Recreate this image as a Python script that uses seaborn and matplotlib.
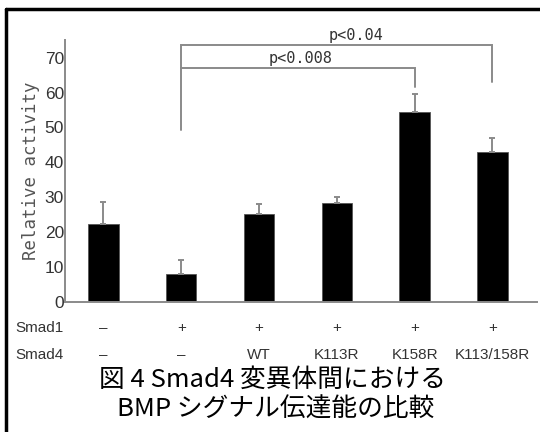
import numpy as np
import pandas as pd
import seaborn as sns
import matplotlib.pyplot as plt
from matplotlib.lines import Line2D

# data
groups = ["g1", "g2", "g3", "g4", "g5", "g6"]
activity = [22.3, 8.0, 25.1, 28.3, 54.3, 42.9]
err_up = [6.3, 4.0, 2.9, 1.7, 5.4, 4.2]
smad1 = ["–", "+", "+", "+", "+", "+"]
smad4 = ["–", "–", "WT", "K113R", "K158R", "K113/158R"]
y_ticks = [0, 10, 20, 30, 40, 50, 60, 70]

# significance brackets: (left bar, right bar, top y, left leg end, right leg end, label)
brackets = [
    (1, 5, 73.7, 49.4, 62.9, "p<0.04"),
    (1, 4, 67.1, 67.1, 61.7, "p<0.008"),
]
bracket_label_x = [3.25, 2.53]

caption = ["図 4 Smad4 変異体間における", "BMP シグナル伝達能の比較"]

GRAY = "#8a8a8a"
TXT = "#333333"

sns.set_theme(style="white")
plt.rcParams["font.family"] = ["Liberation Sans", "DejaVu Sans"]

df = pd.DataFrame({"group": groups, "activity": activity})

fig = plt.figure(figsize=(5.4, 4.32), dpi=100)
ax = fig.add_axes([0.121, 0.301, 0.873, 0.606])

sns.barplot(data=df, x="group", y="activity", color="black", width=0.39,
            errorbar=None, edgecolor="#555555", linewidth=0.6, ax=ax,
            saturation=1)
xs = np.arange(len(groups))
ax.errorbar(xs, activity, yerr=[np.zeros(len(err_up)), err_up], fmt="none",
            ecolor=GRAY, elinewidth=1.4, capsize=2.5, capthick=1.4, zorder=1)

ax.set_xlim(-0.49, 5.57)
ax.set_ylim(0, 75)
ax.set_yticks(y_ticks)
ax.set_yticklabels([str(t) for t in y_ticks])
ax.set_xticks([])
ax.set_xlabel("")
ax.set_ylabel("Relative activity", family="DejaVu Sans Mono", fontsize=12.5,
              color="#555555", labelpad=3)
ax.tick_params(axis="y", direction="in", length=7, width=1.2, color=GRAY,
               labelsize=12.5, labelcolor=TXT, pad=1)
for s in ("top", "right"):
    ax.spines[s].set_visible(False)
for s in ("left", "bottom"):
    ax.spines[s].set_color(GRAY)
    ax.spines[s].set_linewidth(1.4)

for (a, b, top, l_end, r_end, lab), lx in zip(brackets, bracket_label_x):
    ax.plot([a, a, b, b], [l_end, top, top, r_end], color=GRAY, lw=1.4,
            clip_on=False, solid_joinstyle="miter")
    ax.text(lx, top + 0.6, lab, family="DejaVu Sans Mono", fontsize=11,
            color=TXT, ha="center", va="bottom", clip_on=False)

# Smad rows under the axis
for row_y, name, vals in ((-7.4, "Smad1", smad1), (-15.1, "Smad4", smad4)):
    fig.text(15 / 540, 1 - (302 - row_y * 3.5) / 432, name, fontsize=11,
             color=TXT, ha="left", va="center")
    for x, v in zip(xs, vals):
        ax.text(x, row_y, v, fontsize=11, color=TXT, ha="center",
                va="center", clip_on=False)

fig.text(0.505, 1 - 380 / 432, caption[0], family=["Noto Sans CJK JP"],
         fontsize=18.5, ha="center", va="center", color="black")
fig.text(0.51, 1 - 410 / 432, caption[1], family=["Noto Sans CJK JP"],
         fontsize=18.5, ha="center", va="center", color="black")

# frame (top and left edges)
fig.add_artist(Line2D([6 / 540, 1], [1 - 9 / 432, 1 - 9 / 432],
                      transform=fig.transFigure, color="black", lw=2.5))
fig.add_artist(Line2D([6 / 540, 6 / 540], [0, 1 - 9 / 432],
                      transform=fig.transFigure, color="black", lw=2.5))

fig.savefig("out.png", dpi=100, facecolor="white")
